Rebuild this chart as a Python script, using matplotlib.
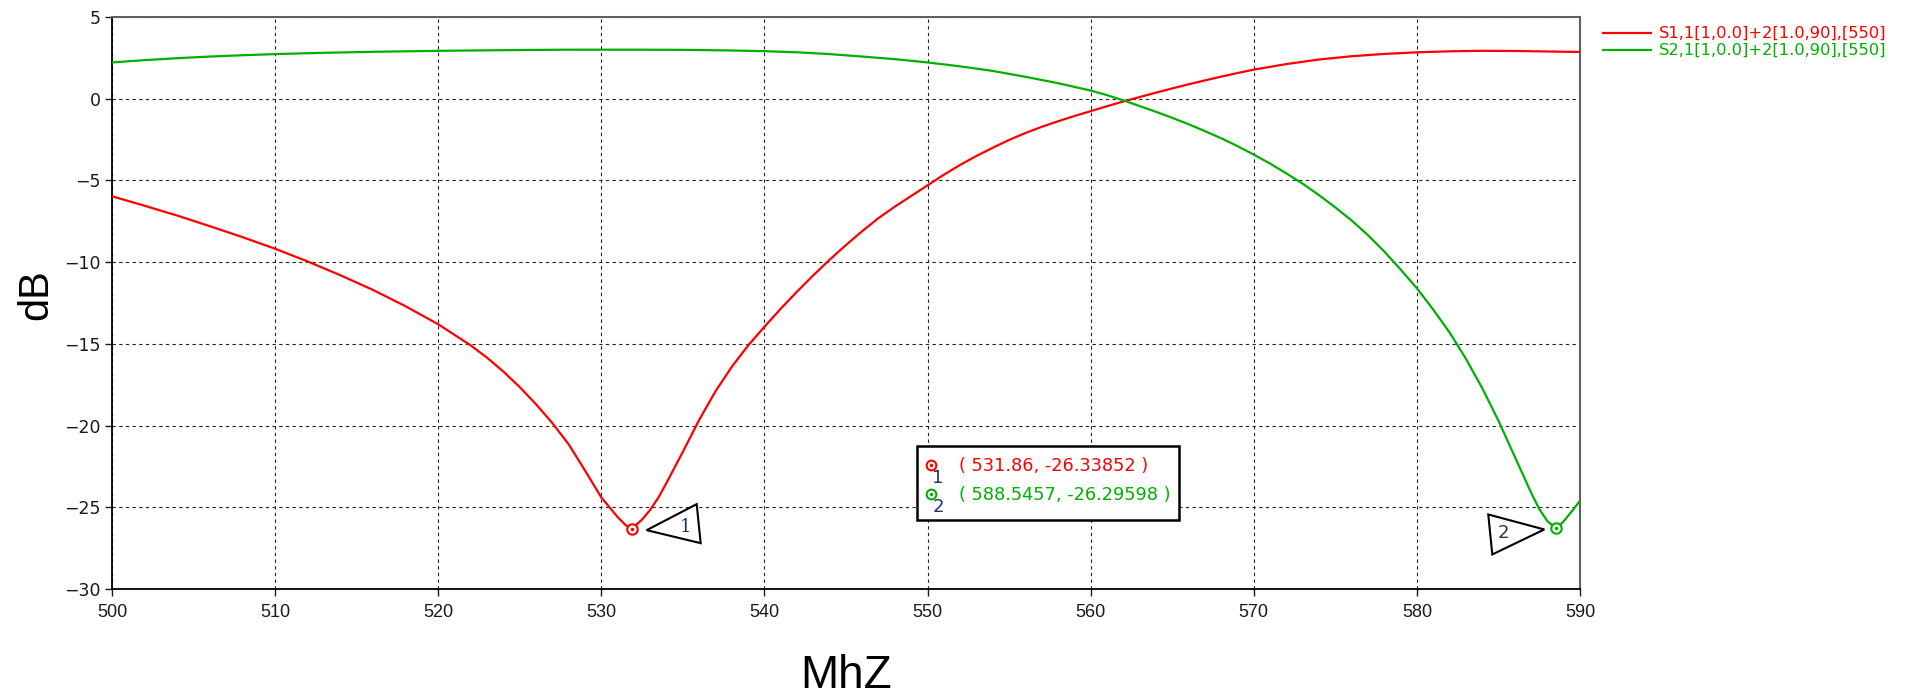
import matplotlib
matplotlib.use("Agg")
import matplotlib.pyplot as plt
from matplotlib.lines import Line2D
from matplotlib.patches import Rectangle, Polygon
from matplotlib.transforms import ScaledTranslation
from matplotlib import font_manager

# ---- data ----
s11_freq = [500, 502, 504, 506, 508, 510, 512, 514, 516, 518, 520, 522, 523, 524, 525,
            526, 527, 528, 529, 530, 531, 531.5, 531.86, 532, 532.5, 533, 533.5, 534,
            535, 536, 537, 538, 539, 540, 541, 542, 543, 544, 545, 546, 547, 548, 549,
            550, 551, 552, 553, 554, 555, 556, 557, 558, 559, 560, 561, 562, 563, 564,
            565, 566, 567, 568, 569, 570, 572, 574, 576, 578, 580, 582, 584, 586, 588, 590]
s11_db = [-5.97, -6.55, -7.15, -7.8, -8.47, -9.18, -9.96, -10.8, -11.7, -12.7, -13.8,
          -15.1, -15.85, -16.7, -17.65, -18.7, -19.85, -21.15, -22.75, -24.4, -25.6,
          -26.1, -26.34, -26.2, -25.75, -25.15, -24.4, -23.5, -21.6, -19.65, -17.9,
          -16.4, -15.1, -13.95, -12.85, -11.8, -10.8, -9.85, -8.95, -8.1, -7.3, -6.6,
          -5.95, -5.3, -4.65, -4.05, -3.5, -3.0, -2.52, -2.1, -1.72, -1.38, -1.06, -0.76,
          -0.46, -0.17, 0.1, 0.37, 0.63, 0.88, 1.12, 1.35, 1.57, 1.78, 2.12, 2.4, 2.6,
          2.74, 2.84, 2.9, 2.93, 2.92, 2.89, 2.86]

s21_freq = [500, 502, 504, 506, 508, 510, 513, 516, 520, 524, 528, 532, 535, 538, 540,
            542, 544, 546, 548, 550, 552, 554, 556, 558, 560, 561, 562, 563, 564, 565,
            566, 567, 568, 569, 570, 571, 572, 573, 574, 575, 576, 577, 578, 579, 580,
            581, 582, 583, 584, 585, 586, 587, 587.5, 588, 588.55, 589, 589.5, 590]
s21_db = [2.22, 2.36, 2.48, 2.58, 2.66, 2.73, 2.81, 2.87, 2.93, 2.97, 3.0, 3.0, 2.99,
          2.95, 2.91, 2.84, 2.73, 2.58, 2.42, 2.22, 1.98, 1.7, 1.34, 0.95, 0.5, 0.22,
          -0.1, -0.45, -0.8, -1.17, -1.56, -1.98, -2.42, -2.9, -3.42, -3.97, -4.57, -5.2,
          -5.9, -6.65, -7.45, -8.35, -9.35, -10.45, -11.6, -12.9, -14.3, -15.9, -17.7,
          -19.7, -21.9, -24.1, -25.1, -25.85, -26.3, -25.85, -25.25, -24.6]

series_labels = ["S1,1[1,0.0]+2[1.0,90],[550]", "S2,1[1,0.0]+2[1.0,90],[550]"]
series_colors = ["#ff0000", "#00b000"]

marker_freq = [531.86, 588.5457]
marker_db = [-26.33852, -26.29598]
marker_names = ["1", "2"]

x_ticks = [500, 510, 520, 530, 540, 550, 560, 570, 580, 590]
y_ticks = [5, 0, -5, -10, -15, -20, -25, -30]

W, H = 1917, 699


def px(x, y):
    # pixel position (from top-left) -> figure fraction
    return x / W, 1 - y / H


names = {f.name for f in font_manager.fontManager.ttflist}
narrow = "Liberation Sans Narrow" if "Liberation Sans Narrow" in names else "Liberation Sans"

fig = plt.figure(figsize=(W / 100, H / 100), dpi=100)
ax = fig.add_axes([112 / W, 1 - 589 / H, 1468 / W, 572 / H])

ax.plot(s11_freq, s11_db, color=series_colors[0], lw=1.6, zorder=3)
ax.plot(s21_freq, s21_db, color=series_colors[1], lw=1.6, zorder=3)

ax.set_xlim(500, 590)
ax.set_ylim(-30, 5)
ax.set_xticks(x_ticks)
ax.set_yticks(y_ticks)
ax.grid(True, color="#222222", lw=0.8, linestyle=(0, (3, 3)))
ax.tick_params(direction="out", length=5, width=1, colors="#1a1a1a")
ax.tick_params(axis="y", labelsize=12.5, pad=3)
ax.tick_params(axis="x", labelsize=13, pad=6)
for lab in ax.get_xticklabels():
    lab.set_family(narrow)
for lab in ax.get_yticklabels():
    lab.set_family("DejaVu Sans")
for side in ["left", "bottom"]:
    ax.spines[side].set_color("black")
    ax.spines[side].set_linewidth(1.3)
for side in ["top", "right"]:
    ax.spines[side].set_color("#606060")
    ax.spines[side].set_linewidth(1.5)

ax.set_xlabel("MhZ", fontsize=33, family="Liberation Sans", va="baseline")
ax.xaxis.set_label_coords(0.5, -0.173)
ax.set_ylabel("dB", fontsize=30, family="Liberation Sans", va="baseline")
ax.yaxis.set_label_coords(-0.0443, 0.514)

# markers on the curves with triangle flags
tri_offsets = [[(15, 1), (65, -25), (69, 14)], [(-12, 1), (-68, -14), (-64, 26)]]
tri_text = [(54, -2), (-53, 5)]
for i in range(2):
    ax.plot(marker_freq[i], marker_db[i], "o", ms=7.5, mfc="white", mec=series_colors[i],
            mew=1.5, zorder=5)
    ax.plot(marker_freq[i], marker_db[i], ".", ms=3, color=series_colors[i], zorder=6)
    tr = fig.dpi_scale_trans + ScaledTranslation(marker_freq[i], marker_db[i], ax.transData)
    verts = [(dx / 100, -dy / 100) for dx, dy in tri_offsets[i]]
    ax.add_patch(Polygon(verts, closed=True, fc="white", ec="black", lw=1.5,
                         transform=tr, zorder=6, clip_on=False))
    ax.text(tri_text[i][0] / 100, -tri_text[i][1] / 100, marker_names[i], transform=tr,
            fontsize=13, color="#20306a", ha="center", va="center", zorder=7,
            family="DejaVu Serif" if i == 0 else "DejaVu Sans")

# marker readout box
x0, y0 = px(917, 520)
x1, y1 = px(1179, 446)
fig.add_artist(Rectangle((x0, y0), x1 - x0, y1 - y0, transform=fig.transFigure,
                         fc="white", ec="black", lw=1.8, zorder=10))
row_y = [466, 495]
for i in range(2):
    mx, my = px(931, row_y[i] - 1)
    fig.add_artist(Line2D([mx], [my], marker="o", ms=7, mfc="white", mec=series_colors[i],
                          mew=1.5, transform=fig.transFigure, zorder=11))
    fig.add_artist(Line2D([mx], [my], marker=".", ms=3, color=series_colors[i],
                          transform=fig.transFigure, zorder=12))
    nx, ny = px(938, row_y[i] + 12)
    fig.text(nx, ny, marker_names[i], fontsize=13, color="#20306a", ha="center",
             va="center", zorder=12)
    tx, ty = px(959, row_y[i])
    fig.text(tx, ty, "( %s, %s )" % (marker_freq[i], marker_db[i]), fontsize=12.8,
             color=series_colors[i], va="center", zorder=12)

# legend at the right
for i in range(2):
    yy = 33 + i * 17
    lx0, ly = px(1603, yy)
    lx1, _ = px(1651, yy)
    fig.add_artist(Line2D([lx0, lx1], [ly, ly], color=series_colors[i], lw=1.6))
    tx, _ = px(1659, yy)
    fig.text(tx, ly, series_labels[i], fontsize=11.7, color=series_colors[i], va="center")

fig.savefig("out.png", dpi=100)
